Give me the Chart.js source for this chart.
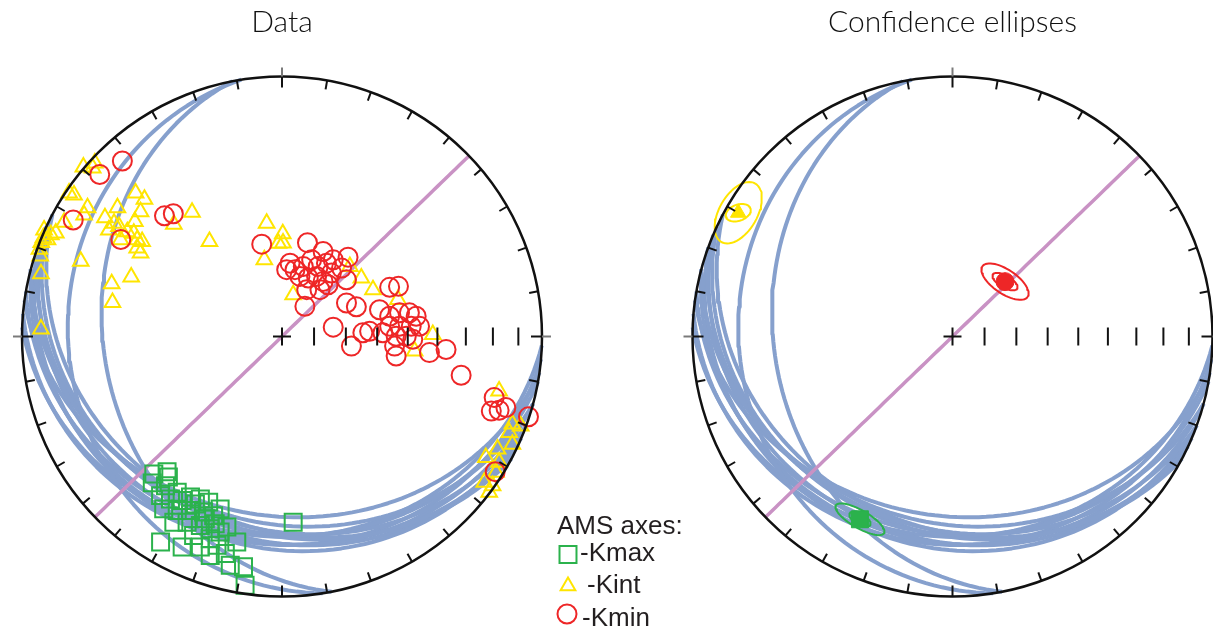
<!DOCTYPE html>
<html>
<head>
<meta charset="utf-8">
<script src="https://cdn.jsdelivr.net/npm/chart.js@4.4.1/dist/chart.umd.min.js"></script>
<style>
  html, body { margin: 0; padding: 0; background: #fff; }
  body { position: relative; width: 1213px; height: 633px; overflow: hidden; }
  canvas { position: absolute; top: 0; }
  #data { left: 0; }
  #conf { left: 680px; }
</style>
</head>
<body>
<canvas id="data" width="700" height="633"></canvas>
<canvas id="conf" width="533" height="633"></canvas>
<script>
// equal-area (Schmidt) net, lower hemisphere, primitive radius = 100
const R = 100;

// AMS axes, projected position (east, north) in % of the primitive radius
const kmax = [
  [-49.3, -52.9], [-44.2, -52.0], [-49.9, -56.3], [-44.8, -57.4], [-40.3, -59.9], [-46.7, -61.2],
  [-42.9, -62.5], [-38.4, -63.1], [-31.4, -62.5], [-28.2, -63.7], [-23.8, -66.3], [-45.5, -66.3],
  [-40.3, -66.9], [-35.2, -66.9], [-30.2, -67.5], [-26.3, -68.9], [-21.2, -73.3], [-41.6, -71.4],
  [-36.5, -71.4], [-31.4, -72.7], [-27.6, -73.9], [-23.8, -75.2], [-17.4, -79.0], [-46.7, -79.0],
  [-38.4, -81.0], [-31.4, -81.0], [-27.6, -84.2], [-19.9, -88.0], [-14.8, -88.6], [-14.2, -95.7],
  [-25.0, -80.3], [-34.0, -76.5], [4.3, -71.4], [-43.7, -54.0], [-35.2, -61.7], [-29.5, -70.1],
  [-25.7, -72.0], [-33.3, -64.4], [-27.6, -77.8], [-21.8, -83.5]
];
const kint = [
  [-76.4, 65.2], [-72.0, 66.7], [-72.8, 64.8], [-81.9, 55.2], [-80.0, 54.4], [-74.8, 49.5],
  [-76.1, 46.7], [-56.3, 55.2], [-52.9, 52.8], [-63.3, 49.5], [-68.1, 45.7], [-54.4, 48.0],
  [-56.6, 44.2], [-34.6, 47.8], [-41.6, 43.2], [-64.6, 43.6], [-66.6, 41.0], [-62.7, 42.3],
  [-59.5, 40.3], [-57.0, 39.7], [-55.7, 37.2], [-53.8, 36.5], [-55.7, 34.0], [-54.4, 32.1],
  [-62.1, 37.2], [-27.9, 36.5], [-83.8, 43.9], [-91.5, 41.0], [-88.9, 39.1], [-91.8, 38.0],
  [-92.6, 36.2], [-90.2, 37.2], [-93.3, 33.6], [-93.0, 31.0], [-87.0, 39.8], [-77.4, 28.9],
  [-92.7, 24.1], [-58.0, 22.9], [-65.5, 20.3], [-65.2, 13.1], [-92.7, 2.9], [-5.9, 43.6],
  [0.3, 39.5], [-1.4, 35.9], [-6.8, 29.5], [4.3, 16.1], [0.4, 36.0], [26.1, 26.9],
  [30.5, 22.5], [35.0, 18.0], [44.6, 14.2], [58.0, 0.8], [51.0, -5.6], [83.5, -21.0],
  [88.6, -33.7], [91.8, -34.4], [87.4, -36.9], [88.6, -41.4], [82.9, -43.3], [78.4, -46.5],
  [83.5, -48.4], [82.3, -52.2], [77.8, -56.1], [81.0, -57.4], [79.7, -59.9]
];
const kmin = [
  [-61.4, 67.5], [-70.1, 62.3], [-80.3, 44.8], [-45.2, 46.4], [-41.8, 47.2], [-62.0, 37.3],
  [-7.8, 35.5], [9.8, 36.1], [15.8, 32.7], [25.4, 30.5], [3.1, 28.2], [5.0, 25.7],
  [8.2, 26.9], [11.4, 29.5], [13.9, 26.9], [17.1, 28.2], [19.7, 29.5], [6.9, 23.1],
  [10.1, 22.5], [13.3, 23.1], [15.8, 21.2], [19.0, 24.4], [22.9, 26.3], [24.8, 21.8],
  [9.5, 18.0], [14.6, 18.0], [17.7, 19.9], [1.8, 25.7], [8.8, 11.6], [24.8, 12.9],
  [28.6, 11.4], [41.4, 18.9], [44.8, 19.3], [19.7, 3.6], [37.5, 10.3], [41.4, 7.8],
  [45.2, 9.1], [49.0, 9.1], [51.6, 7.8], [41.4, 3.9], [45.2, 3.9], [49.7, 3.9],
  [52.9, 3.9], [38.8, 1.4], [43.9, 0.1], [47.8, 0.1], [33.7, 2.0], [31.1, 1.4],
  [50.3, -1.1], [26.7, -3.7], [43.9, -7.5], [43.3, -3.7], [56.7, -6.2], [63.1, -5.0],
  [68.9, -14.9], [81.6, -23.5], [83.5, -28.4], [86.1, -27.3], [94.8, -30.9], [80.5, -28.7],
  [82.0, -52.0]
];

// mean axes (confidence plot)
const kmaxMean = [-35.6, -70.3];
const kintMean = [-82.4, 47.6];
const kminMean = [20.2, 21.1];

// confidence ellipses, order kmax / kint / kmin
const outerMajor = [10.7, 13.0, 10.5];
const outerMinor = [3.4, 7.3, 4.6];
const outerTilt = [-30, 60, -34];
const innerMajor = [4.5, 5.0, 5.4];
const innerMinor = [2.2, 3.1, 2.3];
const innerTilt = [-30, 20, -30];

// foliation planes (dip direction / dip, degrees)
const planeDipDir = [261, 259, 195, 200, 190, 205, 208, 195, 185, 200, 188, 203, 182];
const planeDip = [19, 32, 29, 27, 25, 26, 28, 22, 21, 20, 31.5, 23, 24];
// vertical plane drawn in pink
const dikeDipDir = [136];
const dikeDip = [90];

// dip ticks along the E radius
const tickPlunges = [80, 70, 60, 50, 40, 30, 20, 10];

const BLUE = '#86a0cd';
const PINK = '#c992c4';
const GREEN = '#2bb24c';
const YELLOW = '#ffe500';
const RED = '#ee2627';
const NET_PX = 260;

const rad = d => d * Math.PI / 180;
const deg = r => r * 180 / Math.PI;

function project(trend, plunge) {
  const r = R * Math.SQRT2 * Math.sin(rad(90 - plunge) / 2);
  return { x: r * Math.sin(rad(trend)), y: r * Math.cos(rad(trend)) };
}

function greatCircle(dipDir, dip) {
  const s = rad(dipDir - 90), d = rad(dipDir), p = rad(dip);
  const pts = [];
  for (let t = 0; t <= 180; t += 2) {
    const a = rad(t);
    const n = Math.cos(a) * Math.cos(s) + Math.sin(a) * Math.cos(p) * Math.cos(d);
    const e = Math.cos(a) * Math.sin(s) + Math.sin(a) * Math.cos(p) * Math.sin(d);
    const down = Math.min(1, Math.sin(a) * Math.sin(p));
    pts.push(project(deg(Math.atan2(e, n)), deg(Math.asin(down))));
  }
  return pts;
}

function ellipse([cx, cy], a, b, tilt) {
  const k = rad(tilt), pts = [];
  for (let t = 0; t <= 360; t += 6) {
    const u = a * Math.cos(rad(t)), v = b * Math.sin(rad(t));
    pts.push({ x: cx + u * Math.cos(k) - v * Math.sin(k), y: cy + u * Math.sin(k) + v * Math.cos(k) });
  }
  return pts;
}

const toXY = arr => arr.map(([x, y]) => ({ x, y }));

const curve = (data, color, width, order) => ({
  data, showLine: true, pointRadius: 0, borderColor: color, borderWidth: width,
  borderJoinStyle: 'round', order
});

const marks = (data, style, color, radius, filled, order) => ({
  data, pointStyle: style, pointRadius: radius,
  pointBorderColor: color, pointBorderWidth: filled ? 1 : 2,
  pointBackgroundColor: filled ? color : 'rgba(0,0,0,0)', order
});

const planeSets = () => planeDipDir
  .map((dd, i) => curve(greatCircle(dd, planeDip[i]), BLUE, 4, 6))
  .concat(dikeDipDir.map((dd, i) => curve(greatCircle(dd, dikeDip[i]), PINK, 3.5, 5)));

function line(ctx, x1, y1, x2, y2, color) {
  ctx.strokeStyle = color;
  ctx.beginPath();
  ctx.moveTo(x1, y1);
  ctx.lineTo(x2, y2);
  ctx.stroke();
}

const frameLayer = title => ({
  id: 'netFrame',
  afterDatasetsDraw(chart) {
    const { ctx, scales: { x, y } } = chart;
    const cx = x.getPixelForValue(0), cy = y.getPixelForValue(0);
    const r = x.getPixelForValue(R) - cx;
    ctx.save();
    ctx.lineCap = 'butt';
    ctx.lineWidth = 2.5;
    ctx.strokeStyle = '#111';
    ctx.beginPath();
    ctx.arc(cx, cy, r, 0, Math.PI * 2);
    ctx.stroke();
    ctx.lineWidth = 2;
    for (let az = 0; az < 360; az += 10) {
      const s = Math.sin(rad(az)), c = -Math.cos(rad(az));
      const main = az % 90 === 0;
      const inner = main ? r - 11 : r - 9;
      line(ctx, cx + s * inner, cy + c * inner, cx + s * r, cy + c * r, '#111');
      if (main && az !== 180) line(ctx, cx + s * r, cy + c * r, cx + s * (r + 9), cy + c * (r + 9), '#7a7a7a');
    }
    line(ctx, cx - 9, cy, cx + 9, cy, '#111');
    line(ctx, cx, cy - 9, cx, cy + 9, '#111');
    tickPlunges.forEach(p => {
      const tx = x.getPixelForValue(project(90, p).x);
      line(ctx, tx, cy - 9, tx, cy + 9, '#111');
    });
    ctx.fillStyle = '#111';
    ctx.font = '300 30px Lato, "Liberation Sans", sans-serif';
    ctx.textAlign = 'center';
    ctx.fillText(title, cx, 32);
    ctx.restore();
  }
});

const legendLayer = {
  id: 'amsLegend',
  afterDraw(chart) {
    const ctx = chart.ctx;
    ctx.save();
    ctx.fillStyle = '#231f20';
    ctx.font = '26px "Liberation Sans", Arial, sans-serif';
    ctx.fillText('AMS axes:', 557, 534);
    const items = [
      ['-Kmax', 'rect', GREEN, 12, 568, 554.5, 580, 561],
      ['-Kint', 'triangle', YELLOW, 8.5, 568, 586, 587, 593],
      ['-Kmin', 'circle', RED, 9.5, 567, 614, 582, 626]
    ];
    items.forEach(([label, style, color, radius, mx, my, tx, ty]) => {
      ctx.strokeStyle = color;
      ctx.lineWidth = 2;
      ctx.fillStyle = 'rgba(0,0,0,0)';
      Chart.helpers.drawPoint(ctx, { pointStyle: style, radius, borderWidth: 2, rotation: 0 }, mx, my);
      ctx.fillStyle = '#231f20';
      ctx.fillText(label, tx, ty);
    });
    ctx.restore();
  }
};

function netScales(canvas, cxPx, cyPx) {
  const k = NET_PX / R;
  return {
    x: { type: 'linear', display: false, min: -cxPx / k, max: (canvas.width - cxPx) / k },
    y: { type: 'linear', display: false, min: -(canvas.height - cyPx) / k, max: cyPx / k }
  };
}

function makeNet(canvas, datasets, plugins, cxPx, cyPx) {
  return new Chart(canvas, {
    type: 'scatter',
    data: { datasets },
    options: {
      responsive: false,
      animation: false,
      events: [],
      layout: { padding: 0, autoPadding: false },
      scales: netScales(canvas, cxPx, cyPx),
      plugins: { legend: { display: false }, tooltip: { enabled: false } }
    },
    plugins
  });
}

const dataCanvas = document.getElementById('data');
const confCanvas = document.getElementById('conf');

makeNet(dataCanvas, [
  marks(toXY(kmin), 'circle', RED, 9.5, false, 1),
  marks(toXY(kint), 'triangle', YELLOW, 9, false, 2),
  marks(toXY(kmax), 'rect', GREEN, 12, false, 3),
  ...planeSets()
], [frameLayer('Data'), legendLayer], 282, 336.5);

const means = [kmaxMean, kintMean, kminMean];
const meanColors = [GREEN, YELLOW, RED];
const ellipseSets = means.flatMap((m, i) => [
  curve(ellipse(m, outerMajor[i], outerMinor[i], outerTilt[i]), meanColors[i], 2, 2),
  curve(ellipse(m, innerMajor[i], innerMinor[i], innerTilt[i]), meanColors[i], 2, 2)
]);

makeNet(confCanvas, [
  marks(toXY([kminMean]), 'circle', RED, 9, true, 1),
  marks(toXY([kintMean]), 'triangle', YELLOW, 9, true, 1),
  marks(toXY([kmaxMean]), 'rect', GREEN, 12, true, 1),
  ...ellipseSets,
  ...planeSets()
], [frameLayer('Confidence ellipses')], 272.5, 336.5);
</script>
</body>
</html>
